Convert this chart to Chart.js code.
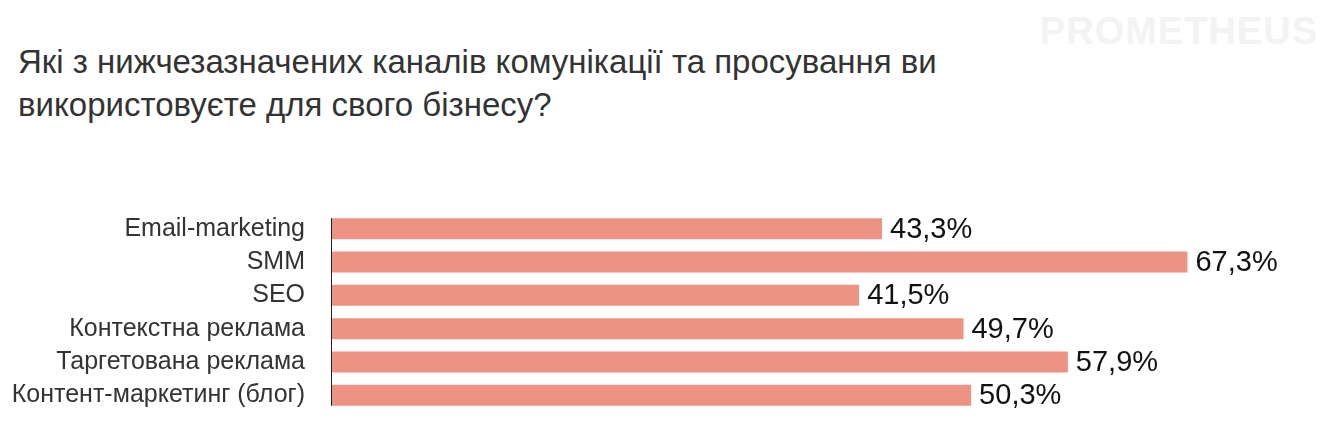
<!DOCTYPE html>
<html><head><meta charset="utf-8">
<script src="https://cdn.jsdelivr.net/npm/chart.js@4"></script>
<style>
html,body{margin:0;padding:0;background:#fff;width:1336px;height:426px;overflow:hidden;position:relative}
#title{position:absolute;left:18px;top:40px;font:33px/43px "Liberation Sans",Arial,sans-serif;color:#333;}
#wm{position:absolute;right:18px;top:10px;font:bold 38px "Liberation Sans",Arial,sans-serif;color:#f3f3f6;letter-spacing:1px}
#c{position:absolute;left:0;top:171px}
</style></head><body>
<div id="wm">PROMETHEUS</div>
<div id="title">Які з нижчезазначених каналів комунікації та просування ви<br>використовуєте для свого бізнесу?</div>
<canvas id="c" width="1336" height="282"></canvas>
<script>
const categories = ['Email-marketing', 'SMM', 'SEO', 'Контекстна реклама', 'Таргетована реклама', 'Контент-маркетинг (блог)'];
const values = [43.3, 67.3, 41.5, 49.7, 57.9, 50.3];
const fmt = (v) => v.toFixed(1).replace('.', ',') + '%';

// value labels after each bar + baseline spanning only the bars
const valueLabels = {
  id: 'valueLabels',
  afterDatasetsDraw(chart) {
    const { ctx } = chart;
    const bars = chart.getDatasetMeta(0).data;
    ctx.save();
    ctx.font = '29px "Liberation Sans", Arial, sans-serif';
    ctx.fillStyle = '#111';
    ctx.textBaseline = 'middle';
    bars.forEach((bar, i) => {
      ctx.fillText(fmt(values[i]), bar.x + 8, bar.y + 1);
    });
    const first = bars[0], last = bars[bars.length - 1];
    ctx.strokeStyle = '#222';
    ctx.lineWidth = 1;
    ctx.beginPath();
    ctx.moveTo(first.base + 0.5, first.y - first.height / 2);
    ctx.lineTo(first.base + 0.5, last.y + last.height / 2);
    ctx.stroke();
    ctx.restore();
  }
};

new Chart(document.getElementById('c'), {
  type: 'bar',
  data: { labels: categories, datasets: [{ data: values, backgroundColor: '#ec9384', categoryPercentage: 1, barPercentage: 0.63 }] },
  options: {
    indexAxis: 'y',
    responsive: false,
    animation: false,
    layout: { padding: { right: 6, top: 0, bottom: 0 } },
    plugins: { legend: { display: false }, tooltip: { enabled: false } },
    scales: {
      x: { display: false, min: 0, max: 78.5 },
      y: {
        afterFit: (s) => { s.width = 331; },
        grid: { display: false, drawTicks: false },
        border: { display: false },
        ticks: { color: '#333', padding: 26, autoSkip: false, font: { size: 25, family: '"Liberation Sans", Arial, sans-serif' } }
      }
    }
  },
  plugins: [valueLabels]
});
</script>
</body></html>
